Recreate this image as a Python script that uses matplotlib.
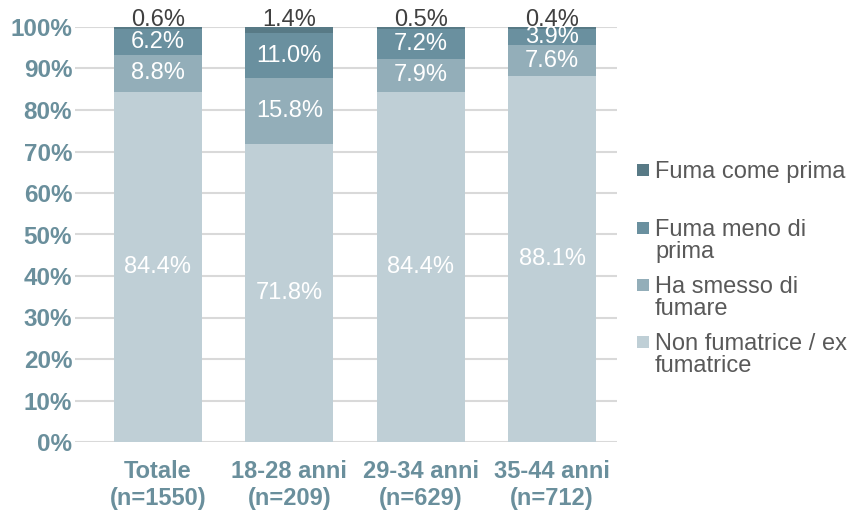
import matplotlib
matplotlib.use("Agg")
import matplotlib.pyplot as plt
from matplotlib.patches import Rectangle
import numpy as np

plt.rcParams['font.family'] = ['Liberation Sans', 'DejaVu Sans']

categories = ["Totale\n(n=1550)", "18-28 anni\n(n=209)", "29-34 anni\n(n=629)", "35-44 anni\n(n=712)"]
series_names = ["Non fumatrice / ex\nfumatrice", "Ha smesso di\nfumare", "Fuma meno di\nprima", "Fuma come prima"]
non_fumatrice = [84.4, 71.8, 84.4, 88.1]
ha_smesso = [8.8, 15.8, 7.9, 7.6]
fuma_meno = [6.2, 11.0, 7.2, 3.9]
fuma_come = [0.6, 1.4, 0.5, 0.4]
yticks = [0, 10, 20, 30, 40, 50, 60, 70, 80, 90, 100]

colors = ["#bfcfd6", "#93aeb9", "#6a909f", "#587a86"]
label_colors = ["white", "white", "white", "#404040"]
tick_color = "#6a8f9c"

series = [non_fumatrice, ha_smesso, fuma_meno, fuma_come]

fig = plt.figure(figsize=(8.64, 5.11), dpi=100)
ax = fig.add_axes([75/864, 1-442/511, 542/864, 415/511])

x = np.arange(len(categories))
bottom = np.zeros(len(categories))
for i, (vals, c) in enumerate(zip(series, colors)):
    vals = np.array(vals)
    ax.bar(x, vals, bottom=bottom, width=0.67, color=c, zorder=2)
    for xi, b, v in zip(x, bottom, vals):
        if i == 3:
            ypos = 101.8
        else:
            ypos = b + v / 2
        ax.text(xi, ypos, f"{v:.1f}%", ha="center", va="center",
                fontsize=17, color=label_colors[i], zorder=3)
    bottom += vals

ax.set_xlim(-0.631, 3.494)
ax.set_ylim(0, 100)
ax.set_yticks(yticks)
ax.set_yticklabels([f"{t}%" for t in yticks], fontsize=17.5, fontweight="bold", color=tick_color)
ax.set_xticks(x)
ax.set_xticklabels(categories, fontsize=17, fontweight="bold", color=tick_color, linespacing=1.2)
ax.tick_params(axis="both", length=0)
ax.tick_params(axis="x", pad=13)
ax.tick_params(axis="y", pad=2)
for s in ax.spines.values():
    s.set_visible(False)
ax.yaxis.grid(True, color="#d9d9d9", linewidth=1.5, zorder=0)
ax.set_axisbelow(True)

# legend (top entry = last series)
legend_tops = [342, 285, 228, 170]
for name, c, top in zip(series_names, colors, legend_tops):
    fig.patches.append(Rectangle((637/864, 1-(top+6)/511), 12/864, 12/511,
                                 transform=fig.transFigure, facecolor=c, edgecolor="none"))
    fig.text(655/864, 1-(top-9)/511, name, ha="left", va="top", fontsize=17,
             color="#595959", linespacing=1.0)

fig.savefig("out.png", dpi=100)
